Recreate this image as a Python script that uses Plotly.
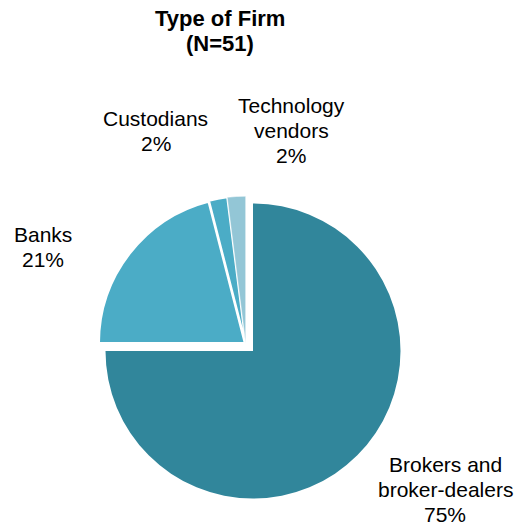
import plotly.graph_objects as go

W, H = 517, 525

categories = ["Brokers and<br>broker-dealers", "Banks", "Custodians", "Technology<br>vendors"]
values = [75, 21, 2, 2]
colors = ["#31869B", "#4BACC6", "#4BACC6", "#93C6D6"]
pulls = [0.07, 0, 0, 0]
line_widths = [0, 3.5, 2, 0.5]

title_lines = ["Type of Firm", "(N=51)"]

# label layout (px from top-left): centre x and first baseline, line step
label_pos = [(445, 472.5), (43, 242), (155.5, 126.5), (291, 113)]
LINE_STEP = 25
FONT = 21


def px(x):
    return x / W


def py(y):
    return 1 - y / H


# pie geometry in pixels (un-pulled centre and radius)
cx, cy, r = 245.7, 343.7, 147.5
half = r * (1 + max(pulls))
cyf = H - cy

fig = go.Figure(go.Pie(
    labels=[c.replace("<br>", " ") for c in categories],
    values=values,
    sort=False,
    direction="clockwise",
    rotation=0,
    pull=pulls,
    textinfo="none",
    hoverinfo="label+percent",
    marker=dict(colors=colors, line=dict(color="white", width=line_widths)),
    domain=dict(x=[(cx - half) / W, (cx + half) / W],
                y=[(cyf - half) / H, (cyf + half) / H]),
    showlegend=False,
))


def line_ann(text, x, baseline, size, bold=False):
    t = f"<b>{text}</b>" if bold else text
    return dict(text=t, x=px(x), y=py(baseline - 0.38 * size),
                xref="paper", yref="paper", xanchor="center", yanchor="middle",
                showarrow=False,
                font=dict(size=size, color="black", family="Liberation Sans"))


annotations = []
for i, t in enumerate(title_lines):
    annotations.append(line_ann(t, 220, 27 + i * 24.5, 22, bold=True))

for cat, v, (x0, b0) in zip(categories, values, label_pos):
    lines = cat.split("<br>") + [f"{v}%"]
    for i, t in enumerate(lines):
        annotations.append(line_ann(t, x0, b0 + i * LINE_STEP, FONT))

fig.update_layout(
    width=W, height=H,
    margin=dict(l=0, r=0, t=0, b=0),
    paper_bgcolor="white", plot_bgcolor="white",
    annotations=annotations,
)

fig.write_html("out.html", config={"displayModeBar": False},
               post_script="document.body.style.margin='0';")
